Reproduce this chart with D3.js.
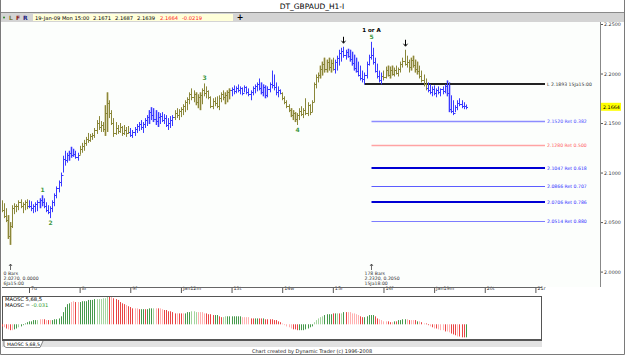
<!DOCTYPE html>
<html>
<head>
<meta charset="utf-8">
<script src="https://cdn.jsdelivr.net/npm/d3@7"></script>
<style>
    body { margin: 0; background: #fff; }
    svg  { display: block; font-family: "DejaVu Sans", Verdana, sans-serif; }
</style>
</head>
<body>
<div id="chart"></div>
<script>
// GBPAUD hourly, first bar = 6 Jan 11:00, hour 0 = 7 Jan 00:00
const firstHour = -13;
const firstOpen = 2.068;

const hi = [
    2.072, 2.069, 2.064, 2.057, 2.050, 2.067, 2.069, 2.068, 2.072, 2.073,
    2.070, 2.072, 2.073, 2.072, 2.071, 2.068, 2.070, 2.072, 2.074, 2.077,
    2.074, 2.070, 2.067, 2.066, 2.072, 2.079, 2.086, 2.092, 2.100, 2.117,
    2.122, 2.120, 2.122, 2.126, 2.124, 2.122, 2.120, 2.127, 2.130, 2.133,
    2.136, 2.140, 2.139, 2.140, 2.145, 2.153, 2.157, 2.152, 2.151, 2.168,
    2.181, 2.173, 2.163, 2.155, 2.151, 2.148, 2.150, 2.147, 2.148, 2.146,
    2.147, 2.145, 2.143, 2.146, 2.149, 2.151, 2.153, 2.151, 2.155, 2.158,
    2.163, 2.166, 2.165, 2.163, 2.161, 2.160, 2.161, 2.159, 2.158, 2.155,
    2.157, 2.158, 2.163, 2.165, 2.164, 2.166, 2.169, 2.173, 2.176, 2.181,
    2.185, 2.183, 2.181, 2.179, 2.181, 2.185, 2.190, 2.187, 2.183, 2.177,
    2.175, 2.176, 2.177, 2.178, 2.181, 2.183, 2.181, 2.183, 2.185, 2.186,
    2.188, 2.187, 2.189, 2.187, 2.186, 2.188, 2.187, 2.185, 2.183, 2.187,
    2.189, 2.191, 2.195, 2.191, 2.189, 2.188, 2.187, 2.191, 2.203, 2.199,
    2.191, 2.187, 2.184, 2.181, 2.177, 2.173, 2.169, 2.165, 2.163, 2.161,
    2.160, 2.165, 2.167, 2.165, 2.175, 2.171, 2.169, 2.173, 2.191, 2.199,
    2.201, 2.208, 2.212, 2.216, 2.214, 2.216, 2.214, 2.216, 2.214, 2.218,
    2.224, 2.226, 2.227, 2.224, 2.225, 2.224, 2.222, 2.219, 2.216, 2.212,
    2.208, 2.203, 2.201, 2.212, 2.219, 2.232, 2.226, 2.216, 2.210, 2.203,
    2.201, 2.203, 2.207, 2.208, 2.207, 2.208, 2.206, 2.208, 2.206, 2.212,
    2.216, 2.224, 2.218, 2.214, 2.216, 2.218, 2.214, 2.212, 2.208, 2.203,
    2.199, 2.195, 2.191, 2.189, 2.187, 2.188, 2.185, 2.187, 2.185, 2.187,
    2.189, 2.193, 2.191, 2.178, 2.173, 2.168, 2.173, 2.175, 2.173, 2.171, 2.1687
];

const lo = [
    2.060, 2.054, 2.050, 2.033, 2.027, 2.044, 2.058, 2.060, 2.062, 2.064,
    2.059, 2.062, 2.063, 2.064, 2.061, 2.059, 2.060, 2.061, 2.064, 2.066,
    2.064, 2.060, 2.058, 2.054, 2.060, 2.066, 2.074, 2.080, 2.086, 2.100,
    2.107, 2.110, 2.112, 2.115, 2.116, 2.114, 2.112, 2.118, 2.120, 2.122,
    2.127, 2.130, 2.131, 2.133, 2.135, 2.139, 2.143, 2.141, 2.141, 2.137,
    2.141, 2.155, 2.148, 2.136, 2.138, 2.139, 2.140, 2.137, 2.138, 2.136,
    2.139, 2.136, 2.135, 2.137, 2.140, 2.142, 2.143, 2.140, 2.145, 2.147,
    2.149, 2.153, 2.151, 2.148, 2.146, 2.149, 2.151, 2.149, 2.146, 2.143,
    2.145, 2.147, 2.153, 2.155, 2.153, 2.156, 2.158, 2.161, 2.163, 2.169,
    2.173, 2.171, 2.168, 2.165, 2.163, 2.169, 2.177, 2.175, 2.174, 2.165,
    2.164, 2.167, 2.165, 2.163, 2.171, 2.173, 2.169, 2.171, 2.174, 2.177,
    2.179, 2.180, 2.181, 2.179, 2.178, 2.181, 2.179, 2.177, 2.173, 2.178,
    2.180, 2.182, 2.183, 2.179, 2.177, 2.175, 2.176, 2.181, 2.185, 2.183,
    2.178, 2.176, 2.179, 2.173, 2.169, 2.165, 2.161, 2.156, 2.153, 2.151,
    2.148, 2.153, 2.157, 2.155, 2.158, 2.157, 2.158, 2.161, 2.171, 2.185,
    2.191, 2.195, 2.198, 2.201, 2.201, 2.203, 2.201, 2.203, 2.200, 2.203,
    2.208, 2.212, 2.216, 2.214, 2.216, 2.212, 2.208, 2.203, 2.201, 2.197,
    2.193, 2.191, 2.189, 2.195, 2.208, 2.214, 2.209, 2.201, 2.195, 2.191,
    2.189, 2.193, 2.195, 2.197, 2.195, 2.198, 2.197, 2.199, 2.197, 2.201,
    2.206, 2.208, 2.206, 2.201, 2.203, 2.206, 2.201, 2.199, 2.195, 2.191,
    2.187, 2.183, 2.181, 2.179, 2.177, 2.178, 2.176, 2.179, 2.177, 2.179,
    2.180, 2.177, 2.161, 2.160, 2.158, 2.161, 2.163, 2.167, 2.165, 2.164, 2.1639
];

const cl = [
    2.062, 2.056, 2.052, 2.036, 2.046, 2.064, 2.066, 2.066, 2.070, 2.066,
    2.068, 2.070, 2.066, 2.066, 2.064, 2.066, 2.068, 2.070, 2.072, 2.070,
    2.066, 2.062, 2.060, 2.064, 2.070, 2.077, 2.084, 2.090, 2.098, 2.114,
    2.113, 2.118, 2.120, 2.118, 2.119, 2.116, 2.118, 2.124, 2.127, 2.130,
    2.134, 2.133, 2.137, 2.138, 2.143, 2.150, 2.146, 2.148, 2.144, 2.160,
    2.170, 2.160, 2.150, 2.140, 2.145, 2.142, 2.146, 2.140, 2.143, 2.140,
    2.141, 2.138, 2.141, 2.144, 2.147, 2.149, 2.146, 2.149, 2.153, 2.156,
    2.161, 2.158, 2.154, 2.152, 2.156, 2.157, 2.153, 2.155, 2.148, 2.150,
    2.153, 2.156, 2.160, 2.158, 2.162, 2.164, 2.167, 2.171, 2.174, 2.179,
    2.176, 2.179, 2.171, 2.176, 2.178, 2.183, 2.180, 2.182, 2.176, 2.167,
    2.172, 2.170, 2.167, 2.175, 2.179, 2.176, 2.178, 2.181, 2.183, 2.184,
    2.182, 2.185, 2.183, 2.185, 2.180, 2.186, 2.181, 2.179, 2.181, 2.185,
    2.187, 2.189, 2.185, 2.181, 2.186, 2.178, 2.184, 2.189, 2.188, 2.186,
    2.181, 2.183, 2.180, 2.175, 2.171, 2.167, 2.163, 2.158, 2.160, 2.154,
    2.158, 2.162, 2.159, 2.163, 2.160, 2.168, 2.161, 2.171, 2.189, 2.196,
    2.199, 2.205, 2.210, 2.205, 2.212, 2.207, 2.211, 2.205, 2.212, 2.216,
    2.221, 2.223, 2.219, 2.222, 2.218, 2.215, 2.211, 2.206, 2.203, 2.199,
    2.195, 2.194, 2.199, 2.210, 2.217, 2.219, 2.212, 2.203, 2.197, 2.193,
    2.198, 2.196, 2.204, 2.199, 2.204, 2.200, 2.204, 2.201, 2.205, 2.210,
    2.213, 2.210, 2.212, 2.207, 2.214, 2.209, 2.205, 2.203, 2.197, 2.193,
    2.189, 2.185, 2.183, 2.181, 2.184, 2.180, 2.183, 2.181, 2.184, 2.182,
    2.187, 2.180, 2.164, 2.162, 2.160, 2.166, 2.170, 2.169, 2.167, 2.1671, 2.1664
];

// trend colouring runs: o = olive, b = blue
const trendRuns = [['o', 13], ['b', 24], ['o', 24], ['b', 21], ['o', 27], ['b', 24], ['o', 25], ['b', 23], ['o', 21], ['b', 19]];
const shadedBars = [3, 4, 18, 19, 32, 33, 34, 49, 50, 70, 71, 72, 73, 74, 92, 93, 94, 106, 107, 108,
    123, 124, 125, 137, 138, 139, 151, 152, 153, 154, 155, 156, 164, 165, 166, 167, 168, 183, 184, 185,
    194, 195, 196, 197, 211, 212];

// MAOSC 5,68,5
const osc = [
    -0.005, -0.007, -0.010, -0.012, -0.014, -0.014, -0.012, -0.010, -0.007, -0.005,
    -0.002, 0.002, 0.005, 0.007, 0.007, 0.010, 0.010, 0.010, 0.012, 0.012,
    0.012, 0.010, 0.010, 0.010, 0.010, 0.012, 0.012, 0.014, 0.019, 0.029,
    0.041, 0.048, 0.050, 0.053, 0.055, 0.053, 0.053, 0.053, 0.055, 0.055,
    0.055, 0.058, 0.058, 0.058, 0.060, 0.060, 0.060, 0.060, 0.062, 0.062,
    0.065, 0.065, 0.065, 0.062, 0.060, 0.058, 0.053, 0.050, 0.048, 0.046,
    0.043, 0.041, 0.038, 0.038, 0.038, 0.036, 0.036, 0.036, 0.036, 0.036,
    0.038, 0.038, 0.038, 0.038, 0.038, 0.038, 0.036, 0.034, 0.034, 0.031,
    0.031, 0.029, 0.026, 0.026, 0.026, 0.026, 0.026, 0.026, 0.029, 0.029,
    0.031, 0.031, 0.029, 0.029, 0.029, 0.029, 0.026, 0.026, 0.024, 0.024,
    0.022, 0.022, 0.022, 0.019, 0.017, 0.017, 0.019, 0.019, 0.019, 0.019,
    0.019, 0.019, 0.019, 0.019, 0.017, 0.017, 0.017, 0.017, 0.014, 0.014,
    0.014, 0.014, 0.014, 0.014, 0.014, 0.012, 0.012, 0.012, 0.012, 0.010,
    0.010, 0.007, 0.005, 0.002, -0.002, -0.005, -0.007, -0.010, -0.012, -0.012,
    -0.014, -0.014, -0.014, -0.014, -0.012, -0.010, -0.007, -0.005, 0.005, 0.010,
    0.014, 0.017, 0.019, 0.022, 0.024, 0.024, 0.024, 0.026, 0.026, 0.026,
    0.026, 0.026, 0.029, 0.029, 0.029, 0.029, 0.026, 0.026, 0.024, 0.022,
    0.019, 0.017, 0.017, 0.019, 0.022, 0.022, 0.022, 0.019, 0.014, 0.012,
    0.010, 0.007, 0.007, 0.007, 0.005, 0.005, 0.007, 0.007, 0.010, 0.010,
    0.012, 0.012, 0.012, 0.010, 0.010, 0.010, 0.010, 0.007, 0.007, 0.005,
    0.002, 0.002, -0.002, -0.005, -0.007, -0.010, -0.010, -0.012, -0.014, -0.014,
    -0.017, -0.017, -0.019, -0.022, -0.024, -0.026, -0.029, -0.029, -0.031, -0.031, -0.031
];
// g = green, r = red, l = light green, p = pink
const oscState = (
    'rprprpgglg' + 'gggggggl' + 'pp' + 'rprpgggggg' + 'gggpprpggg' + 'gggggllll' + 'l' +
    'lrprrrrrrp' + 'rrrpprggrg' + 'gglprpprrr' + 'rrrprrpggg' + 'lllpppprrr' +
    'rggrrllggg' + 'ggggpppprr' + 'ggrrgrrrrr' + 'rrrpppppr' + 'r' + 'rggggggg' + 'll' +
    'lllggggrgl' + 'rlgrpppppp' + 'rrgggggrrp' + 'ppprrpgrgg' + 'ggprpprgpr' +
    'prrprprppp' + 'rpprrrprrrg'
).split('');

const dayHours  = d3.range(0, 241, 24);
const dayLabels = ['7u', '8r', '9f', 'Jan12m', '13t', '14w', '15r', '16f', 'Jan19m', '20t', '21r'];
const priceTicks = [2.25, 2.20, 2.15, 2.10, 2.05, 2.00];

const fibPrice = [2.1893, 2.1520, 2.1280, 2.1047, 2.0866, 2.0706, 2.0514];
const fibText  = ['L 2.1893 15Ja15:00', '2.1520 Ret 0.382', '2.1280 Ret 0.500', '2.1047 Ret 0.618',
                  '2.0866 Ret 0.707', '2.0706 Ret 0.786', '2.0514 Ret 0.880'];
const fibFromBar = [172, 175, 175, 175, 175, 175, 175];

const waveLabels = [
    { t: '1', bar: 19, p: 2.077, up: true },
    { t: '2', bar: 23, p: 2.054, up: false },
    { t: '3', bar: 96, p: 2.190, up: true },
    { t: '4', bar: 140, p: 2.148, up: false },
    { t: '5', bar: 175, p: 2.232, up: true }
];
const arrowBars = [162, 191];

const lastBar = { date: '19-Jan-09 Mon 15:00', o: 2.1671, h: 2.1687, l: 2.1639, c: 2.1664, chg: -0.0219 };
const oscLast = -0.031;

// ---------------------------------------------------------------
const W = 625, H = 355;
const PLOT_L = 2, PLOT_R = 600, PLOT_T = 22, PLOT_B = 287;
const OSC_R = 542, OSC_T = 296, OSC_B = 340;
const FIB_END = 545;

const colors = {
    b: '#3a3aff', bShade: '#c4c4ff',
    o: '#8a873a', oShade: '#dad6b4',
    g: '#45984a', r: '#e84444', l: '#a4d49e', p: '#ffb0b0'
};
const fibStyle = [
    { c: '#222', w: 2, t: '#333' },
    { c: '#8c8cff', w: 1.5, t: '#4a4aff' },
    { c: '#ffa3a3', w: 1.5, t: '#ff5c5c' },
    { c: '#0000d4', w: 2, t: '#3030ff' },
    { c: '#5c5cff', w: 1, t: '#3030ff' },
    { c: '#0000d4', w: 2, t: '#3030ff' },
    { c: '#7c7cff', w: 1, t: '#3030ff' }
];

const trend = trendRuns.flatMap(([c, n]) => d3.range(n).map(() => c));
const bars = hi.map((h, i) => ({
    i, hour: i + firstHour, hi: h, lo: lo[i], cl: cl[i], op: i === 0 ? firstOpen : cl[i - 1],
    trend: trend[i], shade: shadedBars.includes(i), osc: osc[i], state: oscState[i]
}));

const x    = d3.scaleLinear().domain([0, 240]).range([29, 535.4]);
const y    = d3.scaleLinear().domain([2.0, 2.25]).range([271.6, 24]);
const yOsc = d3.scaleLinear().domain([-0.0374, 0.0674]).range([OSC_B, OSC_T]);
const bx   = d => Math.round(x(d.hour)) + 0.5;
const py   = p => Math.round(y(p)) + 0.5;

const svg = d3.select('#chart').append('svg').attr('width', W).attr('height', H);

// window frame
svg.append('rect').attr('width', W).attr('height', H).attr('fill', '#fff');
svg.append('text').attr('x', 312).attr('y', 9).attr('text-anchor', 'middle')
    .style('font-size', '7.5px').text('DT_GBPAUD_H1-I');

svg.append('rect').attr('x', 1).attr('y', 12).attr('width', W - 2).attr('height', 10).attr('fill', '#d4d4d4');
svg.append('line').attr('x1', 1).attr('x2', W - 1).attr('y1', 12.5).attr('y2', 12.5).attr('stroke', '#8a8a8a');
svg.append('rect').attr('x', 33).attr('y', 14).attr('width', 200).attr('height', 7).attr('fill', '#ffffd9');

const bar0 = svg.append('g').style('font-size', '5.2px');
bar0.append('circle').attr('cx', 4).attr('cy', 17.5).attr('r', 1).attr('fill', '#2a8a2a');
[['L', 9, '#7a7a30'], ['F', 16, '#8a2020'], ['R', 23, '#202080']].forEach(([t, px, c]) => {
    bar0.append('text').attr('x', px).attr('y', 19.5).attr('fill', c)
        .style('font-weight', 'bold').style('font-size', '6px').text(t);
});
const info = [
    [lastBar.date, 35, '#000'],
    [lastBar.o.toFixed(4), 93, '#000'],
    [lastBar.h.toFixed(4), 115, '#000'],
    [lastBar.l.toFixed(4), 137, '#000'],
    [lastBar.c.toFixed(4), 160, '#ff2020'],
    [lastBar.chg.toFixed(4), 182, '#ff2020']
];
info.forEach(([t, px, c]) => bar0.append('text').attr('x', px).attr('y', 19.6).attr('fill', c).text(t));
bar0.append('text').attr('x', 240).attr('y', 20).attr('text-anchor', 'middle')
    .style('font-size', '8px').style('font-weight', 'bold').text('+');

// price panel
svg.append('rect').attr('x', PLOT_L).attr('y', PLOT_T).attr('width', PLOT_R - PLOT_L).attr('height', PLOT_B - PLOT_T)
    .attr('fill', '#fcfefc');
svg.append('defs').append('clipPath').attr('id', 'plotClip')
    .append('rect').attr('x', PLOT_L).attr('y', PLOT_T).attr('width', PLOT_R - PLOT_L).attr('height', PLOT_B - PLOT_T);
const plot = svg.append('g').attr('clip-path', 'url(#plotClip)');

// shaded bars
plot.append('g').selectAll('rect')
    .data(bars.filter(d => d.shade))
    .join('rect')
        .attr('x', d => bx(d) - 1.5)
        .attr('width', 3)
        .attr('y', d => y(d.hi))
        .attr('height', d => y(d.lo) - y(d.hi))
        .attr('fill', d => colors[d.trend + 'Shade']);

// fib / level lines
const fib = plot.append('g');
fibPrice.forEach((p, k) => {
    const yy = Math.round(y(p)) + (fibStyle[k].w === 2 ? 0 : 0.5);
    fib.append('line')
        .attr('x1', bx(bars[fibFromBar[k]])).attr('x2', FIB_END)
        .attr('y1', yy).attr('y2', yy)
        .attr('stroke', fibStyle[k].c).attr('stroke-width', fibStyle[k].w);
    fib.append('text')
        .attr('x', FIB_END + 2).attr('y', yy + 1.6)
        .attr('fill', fibStyle[k].t)
        .style('font-size', '4.6px')
        .text(fibText[k]);
});

// OHLC bars
plot.append('g').selectAll('path')
    .data(bars)
    .join('path')
        .attr('d', d => {
            const cx = bx(d);
            return `M${cx},${y(d.hi)}V${y(d.lo)}M${cx - 1.5},${py(d.op)}H${cx}M${cx},${py(d.cl)}H${cx + 1.5}`;
        })
        .attr('fill', 'none')
        .attr('stroke', d => colors[d.trend])
        .attr('stroke-width', 1);

// wave labels
const ann = plot.append('g').style('font-size', '6px').attr('text-anchor', 'middle');
waveLabels.forEach(w => {
    ann.append('text')
        .attr('x', bx(bars[w.bar]))
        .attr('y', w.up ? y(w.p) - 3 : y(w.p) + 7)
        .attr('fill', '#3c963c')
        .style('font-weight', 'bold')
        .text(w.t);
});
ann.append('text').attr('x', bx(bars[175])).attr('y', y(2.232) - 10)
    .style('font-size', '5.5px').style('font-weight', 'bold').text('1 or A');

arrowBars.forEach(b => {
    const ax = bx(bars[b]);
    const top = y(bars[b].hi) - 10;
    ann.append('path')
        .attr('d', `M${ax},${top} V${top + 6} M${ax - 2},${top + 4} L${ax},${top + 6.5} L${ax + 2},${top + 4}`)
        .attr('fill', 'none').attr('stroke', '#000').attr('stroke-width', 1);
});

// bar-count markers at the swing points
const swings = [
    { bar: 4, lines: ['0 Bars', '2.0270, 0.0000', '6Ja15:00'] },
    { bar: 175, lines: ['178 Bars', '2.2320, 0.2050', '15Ja18:00'] }
];
swings.forEach(s => {
    const sx = bx(bars[s.bar]);
    ann.append('path')
        .attr('d', `M${sx},270 V264 M${sx - 1.5},266 L${sx},264 L${sx + 1.5},266`)
        .attr('fill', 'none').attr('stroke', '#444').attr('stroke-width', 0.8);
    s.lines.forEach((t, k) => {
        ann.append('text').attr('x', sx - 7).attr('y', 275 + k * 5)
            .attr('text-anchor', 'start').attr('fill', '#333')
            .style('font-size', '4.6px').text(t);
    });
});

// price axis
const yAxis = svg.append('g')
    .attr('transform', `translate(${PLOT_R},0)`)
    .call(d3.axisRight(y).tickValues(priceTicks).tickFormat(d3.format('.4f')).tickSize(3).tickPadding(1));
yAxis.select('.domain').remove();
yAxis.selectAll('text').style('font-size', '4.8px').attr('fill', '#333').style('font-family', '"DejaVu Sans", sans-serif');
yAxis.selectAll('line').attr('stroke', '#555');
svg.append('line').attr('x1', PLOT_R + 0.5).attr('x2', PLOT_R + 0.5).attr('y1', PLOT_T).attr('y2', PLOT_B)
    .attr('stroke', '#888');

const lastY = y(lastBar.c);
svg.append('rect').attr('x', PLOT_R + 1).attr('y', lastY - 4).attr('width', 20).attr('height', 8).attr('fill', '#ffff00');
svg.append('text').attr('x', PLOT_R + 3).attr('y', lastY + 1.8).style('font-size', '4.8px').text(lastBar.c.toFixed(4));

// date axis
const xAxis = svg.append('g')
    .attr('transform', `translate(0,${PLOT_B})`)
    .call(d3.axisBottom(x).tickValues(dayHours).tickFormat((d, k) => dayLabels[k]).tickSize(6).tickPadding(0));
xAxis.select('.domain').remove();
xAxis.selectAll('line').attr('stroke', '#555');
xAxis.selectAll('text')
    .attr('text-anchor', 'start').attr('dx', 1.5).attr('dy', '0.3em').attr('y', 2)
    .style('font-size', '4.8px').attr('fill', '#333').style('font-family', '"DejaVu Sans", sans-serif');
svg.append('line').attr('x1', PLOT_L).attr('x2', OSC_R).attr('y1', PLOT_B + 0.5).attr('y2', PLOT_B + 0.5)
    .attr('stroke', '#666');

// oscillator panel
svg.append('rect').attr('x', PLOT_L + 0.5).attr('y', OSC_T + 0.5).attr('width', OSC_R - PLOT_L - 1).attr('height', OSC_B - OSC_T)
    .attr('fill', '#fff').attr('stroke', '#555');
svg.append('line').attr('x1', PLOT_L).attr('x2', OSC_R).attr('y1', OSC_B).attr('y2', OSC_B)
    .attr('stroke', '#555').attr('stroke-width', 2);

svg.append('g').selectAll('rect')
    .data(bars)
    .join('rect')
        .attr('x', d => bx(d) - 0.5)
        .attr('width', 1)
        .attr('y', d => Math.min(yOsc(0), yOsc(d.osc)))
        .attr('height', d => Math.abs(yOsc(d.osc) - yOsc(0)))
        .attr('fill', d => colors[d.state]);

const oscTxt = svg.append('g').style('font-size', '5.2px');
oscTxt.append('text').attr('x', 5).attr('y', 301).text('MAOSC 5,68,5');
const t2 = oscTxt.append('text').attr('x', 5).attr('y', 307).text('MAOSC = ');
t2.append('tspan').attr('fill', '#2f9a2f').text(oscLast.toFixed(3));

// tab strip
svg.append('rect').attr('x', PLOT_L).attr('y', OSC_B + 1).attr('width', OSC_R - PLOT_L).attr('height', 6).attr('fill', '#e2e2e2');
svg.append('path').attr('d', `M4,${OSC_B + 1} V${OSC_B + 6} L6,${OSC_B + 7.5} H40 L43,${OSC_B + 1}`)
    .attr('fill', '#fff').attr('stroke', '#555').attr('stroke-width', 0.7);
svg.append('text').attr('x', 7).attr('y', OSC_B + 6).style('font-size', '4.6px').text('MAOSC 5,68,5');

svg.append('text').attr('x', 312).attr('y', 353).attr('text-anchor', 'middle')
    .style('font-size', '5px').attr('fill', '#222')
    .text('Chart created by Dynamic Trader  (c) 1996-2008');

// outer border
svg.append('path').attr('d', `M0.5,0 V${H - 0.5} H${W - 0.5} V0`)
    .attr('fill', 'none').attr('stroke', '#7a7a7a');
</script>
</body>
</html>
